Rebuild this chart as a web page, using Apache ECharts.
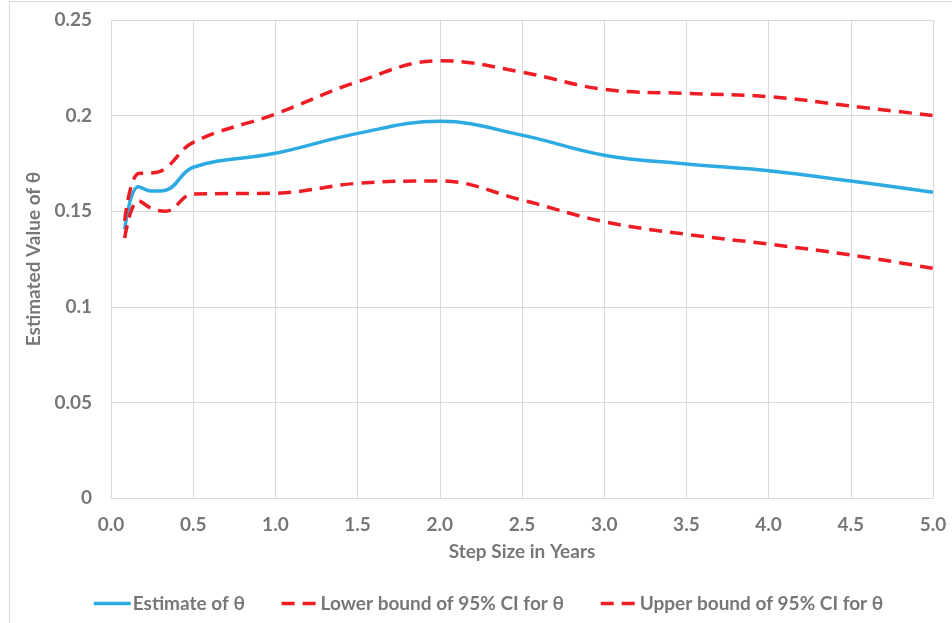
<!DOCTYPE html>
<html>
<head>
<meta charset="utf-8">
<script src="https://cdn.jsdelivr.net/npm/echarts@6/dist/echarts.min.js"></script>
<style>
html,body{margin:0;padding:0;background:#fff;}
#main{width:952px;height:623px;}
</style>
</head>
<body>
<div id="main"></div>
<script>
var stepYears = [1/12, 1/6, 1/4, 1/3, 0.5, 1, 1.5, 2, 2.5, 3, 3.5, 4, 4.5, 5];
var estimate = [0.1405, 0.1628, 0.1605, 0.1610, 0.1730, 0.1803, 0.1907, 0.1970, 0.1898, 0.1793, 0.1747, 0.1712, 0.1658, 0.1599];
var lowerCI  = [0.1360, 0.1555, 0.1513, 0.1500, 0.1590, 0.1594, 0.1646, 0.1658, 0.1558, 0.1445, 0.1379, 0.1328, 0.1271, 0.1201];
var upperCI  = [0.1450, 0.1697, 0.1700, 0.1725, 0.1860, 0.2008, 0.2177, 0.2287, 0.2227, 0.2137, 0.2116, 0.2099, 0.2050, 0.2000];
var seriesNames = ['Estimate of θ', 'Lower bound of 95% CI for θ', 'Upper bound of 95% CI for θ'];
var xTicks = {min: 0, max: 5, interval: 0.5};
var yTicks = {min: 0, max: 0.25, interval: 0.05};

function pairs(xs, ys) { return xs.map(function (x, i) { return [x, ys[i]]; }); }

var FONT = 'Lato';
var FS = 19;
var TXT = '#777777';
var GRID = '#d9d9d9';
var BLUE = '#2DAAE1';
var RED = '#EE1C25';

var chart = echarts.init(document.getElementById('main'), null, {renderer: 'canvas'});
chart.setOption({
  animation: false,
  backgroundColor: '#fff',
  graphic: [{
    type: 'rect',
    shape: {x: 9.5, y: 1.5, width: 1200, height: 1200},
    style: {fill: 'none', stroke: GRID, lineWidth: 1},
    silent: true
  }],
  grid: {left: 111, right: 19, top: 20, bottom: 125, containLabel: false},
  xAxis: {
    type: 'value',
    min: xTicks.min, max: xTicks.max, interval: xTicks.interval,
    name: 'Step Size in Years',
    nameLocation: 'middle',
    nameGap: 44,
    nameTextStyle: {color: TXT, fontFamily: FONT, fontWeight: 'bold', fontSize: FS},
    axisLine: {show: true, lineStyle: {color: GRID, width: 1}},
    axisTick: {show: false},
    splitLine: {show: true, lineStyle: {color: GRID, width: 1}},
    axisLabel: {
      color: TXT, fontFamily: FONT, fontWeight: 'bold', fontSize: FS, margin: 17,
      formatter: function (v) { return v.toFixed(1); }
    }
  },
  yAxis: {
    type: 'value',
    min: yTicks.min, max: yTicks.max, interval: yTicks.interval,
    name: 'Estimated Value of θ',
    nameLocation: 'middle',
    nameGap: 56,
    nameRotate: 90,
    nameTextStyle: {color: TXT, fontFamily: FONT, fontWeight: 'bold', fontSize: FS},
    axisLine: {show: true, lineStyle: {color: GRID, width: 1}},
    axisTick: {show: false},
    splitLine: {show: true, lineStyle: {color: GRID, width: 1}},
    axisLabel: {
      color: TXT, fontFamily: FONT, fontWeight: 'bold', fontSize: FS, margin: 19,
      formatter: function (v) { return String(+v.toFixed(2)); }
    }
  },
  legend: {
    left: 87, top: 589,
    itemWidth: 37, itemHeight: 14, itemGap: 35,
    itemStyle: {opacity: 0, borderWidth: 0},
    lineStyle: {width: 3.5},
    textStyle: {color: TXT, fontFamily: FONT, fontWeight: 'bold', fontSize: FS, padding: [0, 0, 0, -3]},
    data: seriesNames
  },
  series: [
    {
      name: seriesNames[0], type: 'line', data: pairs(stepYears, estimate),
      smooth: 0.4, symbol: 'none', showSymbol: false,
      lineStyle: {color: BLUE, width: 3.5}, itemStyle: {color: BLUE}
    },
    {
      name: seriesNames[1], type: 'line', data: pairs(stepYears, lowerCI),
      smooth: 0.4, symbol: 'none', showSymbol: false,
      lineStyle: {color: RED, width: 3.5, type: [13, 8]}, itemStyle: {color: RED}
    },
    {
      name: seriesNames[2], type: 'line', data: pairs(stepYears, upperCI),
      smooth: 0.4, symbol: 'none', showSymbol: false,
      lineStyle: {color: RED, width: 3.5, type: [13, 8]}, itemStyle: {color: RED}
    }
  ]
});
</script>
</body>
</html>
